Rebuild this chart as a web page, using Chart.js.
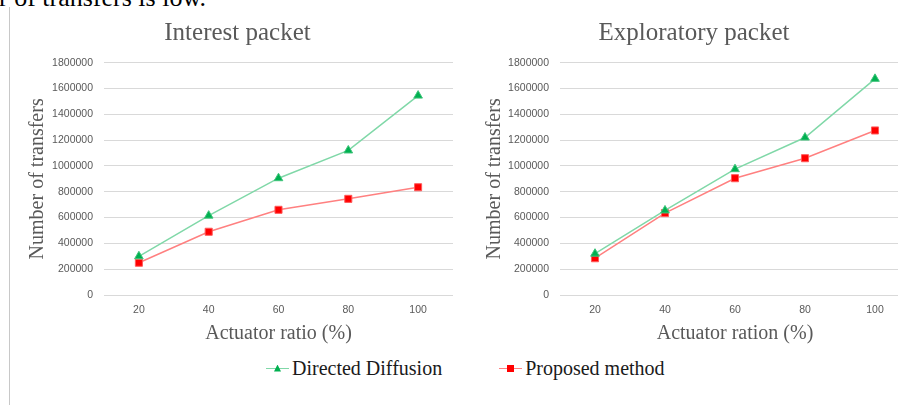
<!DOCTYPE html>
<html>
<head>
<meta charset="utf-8">
<script src="https://cdn.jsdelivr.net/npm/chart.js@4.4.1/dist/chart.umd.min.js"></script>
<style>
  html, body { margin: 0; padding: 0; background: #fff; width: 898px; height: 405px; overflow: hidden; position: relative; }
  .lead { position: absolute; left: -1px; top: -15px; font: 26px/1 "Liberation Serif", serif; color: #000; white-space: nowrap; }
  .rule { position: absolute; left: 9px; top: 7px; width: 1px; height: 398px; background: #c8c8c8; }
  canvas { position: absolute; top: 0; }
  #legend { position: absolute; left: 266px; top: 356px; height: 24px; display: flex; align-items: center;
            font: 20px/24px "Liberation Serif", serif; color: #1a1a1a; white-space: nowrap; }
  #legend .item { display: flex; align-items: center; }
  #legend .item + .item { margin-left: 57px; }
  #legend .sample { position: relative; width: 23px; height: 24px; margin-right: 3px; }
  #legend .ln { position: absolute; left: 0; right: 0; top: 11.5px; height: 1.5px; }
  #legend .mk { position: absolute; left: 8px; top: 8.5px; width: 7px; height: 7px; }
  #legend .tri { clip-path: polygon(50% 0, 100% 100%, 0 100%); }
</style>
</head>
<body>
<div class="lead">r of transfers is low.</div>
<div class="rule"></div>
<canvas id="interest" width="431" height="350" style="left:22px"></canvas>
<canvas id="exploratory" width="432" height="350" style="left:478px"></canvas>
<div id="legend"></div>
<script>
// Actuator ratio categories (%)
const categories = ['20', '40', '60', '80', '100'];
const seriesNames = ['Directed Diffusion', 'Proposed method'];

// Interest packet: number of transfers
const interestDirected = [300000, 615000, 905000, 1120000, 1545000];
const interestProposed = [250000, 490000, 660000, 745000, 835000];

// Exploratory packet: number of transfers
const exploratoryDirected = [320000, 655000, 975000, 1220000, 1675000];
const exploratoryProposed = [285000, 635000, 905000, 1060000, 1275000];

// Y axis tick values
const yTickValues = [0, 200000, 400000, 600000, 800000, 1000000, 1200000, 1400000, 1600000, 1800000];

const seriesStyle = [
  { line: '#80d8a8', fill: '#00b050', edge: '#40c47c', marker: 'triangle' },
  { line: '#ff8080', fill: '#ff0000', edge: '#ff5a5a', marker: 'rect' }
];

const tickFont = { family: 'Liberation Sans', size: 10.5 };
const axisTitleFont = { family: 'Liberation Serif', size: 20 };

function buildChart(id, titleText, xTitleText, directed, proposed, yTitlePad) {
  const values = [directed, proposed];
  return new Chart(document.getElementById(id), {
    type: 'line',
    data: {
      labels: categories,
      datasets: values.map((data, i) => ({
        label: seriesNames[i],
        data: data,
        borderColor: seriesStyle[i].line,
        borderWidth: 1.5,
        tension: 0,
        pointStyle: seriesStyle[i].marker,
        pointRadius: 5,
        pointBackgroundColor: seriesStyle[i].fill,
        pointBorderColor: seriesStyle[i].edge,
        pointBorderWidth: 1
      }))
    },
    options: {
      responsive: false,
      animation: false,
      devicePixelRatio: 1,
      layout: { padding: 0, autoPadding: false },
      plugins: {
        legend: { display: false },
        tooltip: { enabled: false },
        title: {
          display: true,
          text: titleText,
          color: '#595959',
          font: { family: 'Liberation Serif', size: 25, weight: 'normal' },
          padding: { top: 18.3, bottom: 14.4 }
        }
      },
      scales: {
        x: {
          offset: true,
          grid: { display: false, drawTicks: false },
          border: { display: false },
          ticks: { color: '#595959', font: tickFont, padding: 9 },
          title: { display: true, text: xTitleText, color: '#595959', font: axisTitleFont, padding: { top: 0, bottom: 4.5 } },
          afterFit: s => { s.height = 55; s.paddingLeft = 0; s.paddingRight = 0; }
        },
        y: {
          min: 0,
          max: 1800000,
          grid: { color: '#d9d9d9', lineWidth: 1, drawTicks: false },
          border: { display: false },
          ticks: { color: '#595959', font: tickFont, padding: 11, callback: v => String(v) },
          afterBuildTicks: s => { s.ticks = yTickValues.map(v => ({ value: v })); },
          title: { display: true, text: 'Number of transfers', color: '#595959', font: axisTitleFont, padding: { top: yTitlePad, bottom: 0 } },
          afterFit: s => { s.width = 82; }
        }
      }
    }
  });
}

buildChart('interest', 'Interest packet', 'Actuator ratio (%)', interestDirected, interestProposed, 4);
buildChart('exploratory', 'Exploratory packet', 'Actuator ration (%)', exploratoryDirected, exploratoryProposed, 4.5);

// Shared legend under both charts
const legend = document.getElementById('legend');
seriesNames.forEach((name, i) => {
  const item = document.createElement('div');
  item.className = 'item';
  const sample = document.createElement('span');
  sample.className = 'sample';
  const ln = document.createElement('span');
  ln.className = 'ln';
  ln.style.background = seriesStyle[i].line;
  const mk = document.createElement('span');
  mk.className = 'mk' + (seriesStyle[i].marker === 'triangle' ? ' tri' : '');
  mk.style.background = seriesStyle[i].fill;
  sample.appendChild(ln);
  sample.appendChild(mk);
  const label = document.createElement('span');
  label.textContent = name;
  item.appendChild(sample);
  item.appendChild(label);
  legend.appendChild(item);
});
</script>
</body>
</html>
